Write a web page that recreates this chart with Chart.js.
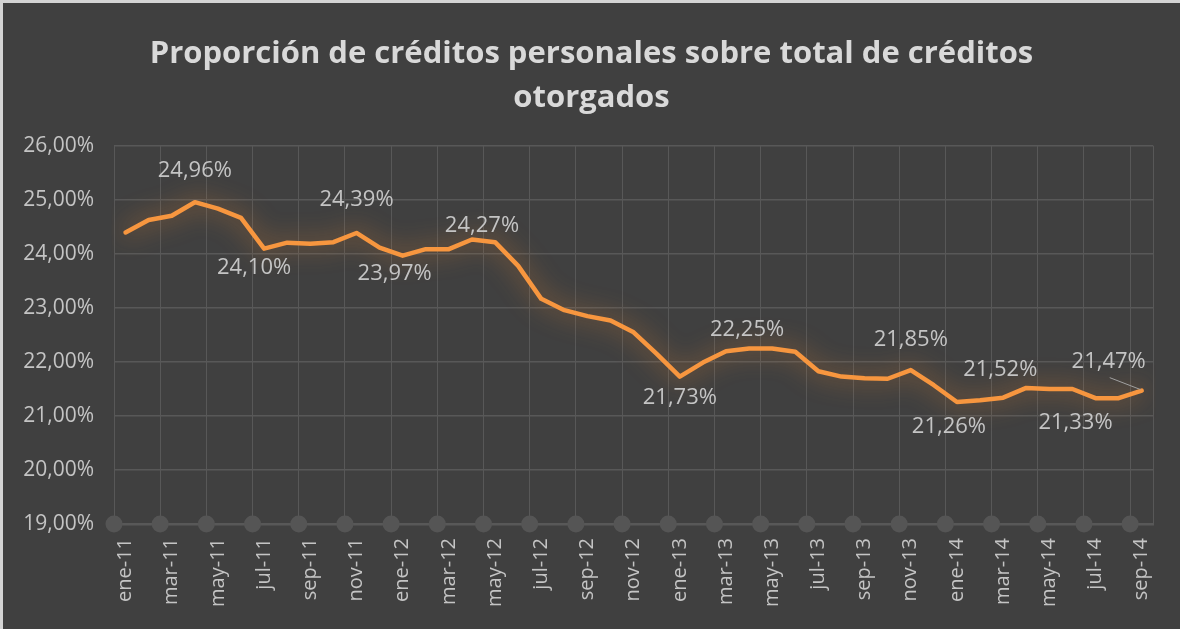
<!DOCTYPE html>
<html>
<head>
<meta charset="utf-8">
<script src="https://cdn.jsdelivr.net/npm/chart.js@4"></script>
<style>
  html, body { margin: 0; padding: 0; background: #d4d4d4; }
  #wrap { position: absolute; left: 3px; top: 3px; width: 1177px; height: 626px; background: #404040; }
</style>
</head>
<body>
<div id="wrap"><canvas id="chart" width="1177" height="626"></canvas></div>
<script>
(function () {
  "use strict";

  // meses ene-11 .. sep-14
  const categories = [
    "ene-11", "feb-11", "mar-11", "abr-11", "may-11", "jun-11", "jul-11", "ago-11", "sep-11", "oct-11", "nov-11", "dic-11",
    "ene-12", "feb-12", "mar-12", "abr-12", "may-12", "jun-12", "jul-12", "ago-12", "sep-12", "oct-12", "nov-12", "dic-12",
    "ene-13", "feb-13", "mar-13", "abr-13", "may-13", "jun-13", "jul-13", "ago-13", "sep-13", "oct-13", "nov-13", "dic-13",
    "ene-14", "feb-14", "mar-14", "abr-14", "may-14", "jun-14", "jul-14", "ago-14", "sep-14",
  ];
  const proporcion = [
    24.40, 24.63, 24.71, 24.96, 24.84, 24.67, 24.10, 24.21, 24.19, 24.22, 24.39, 24.12,
    23.97, 24.09, 24.09, 24.27, 24.22, 23.78, 23.17, 22.96, 22.85, 22.77, 22.55, 22.15,
    21.73, 21.99, 22.20, 22.25, 22.25, 22.19, 21.83, 21.73, 21.70, 21.69, 21.85, 21.57,
    21.26, 21.29, 21.34, 21.52, 21.50, 21.50, 21.33, 21.33, 21.47,
  ];
  // puntos con etiqueta
  const labelIdx = [3, 6, 10, 12, 15, 24, 27, 34, 36, 39, 42, 44];
  const yTicks = [19, 20, 21, 22, 23, 24, 25, 26];

  const GRID = "#585858";
  const TXT = "#c4c4c4";
  const ORANGE = "#f7963f";

  const fmt = (v) => v.toFixed(2).replace(".", ",") + "%";

  // glow del trazo
  const glow = {
    id: "glow",
    beforeDatasetDraw(chart) {
      const ctx = chart.ctx;
      ctx.save();
      ctx.shadowColor = "rgba(240,140,50,0.75)";
      ctx.shadowBlur = 24;
    },
    afterDatasetDraw(chart) {
      chart.ctx.restore();
    },
  };

  // circulos grises sobre el eje
  const axisDots = {
    id: "axisDots",
    beforeDatasetsDraw(chart) {
      const x = chart.scales.x;
      const y = chart.scales.y;
      const half = (x.getPixelForValue(1) - x.getPixelForValue(0)) / 2;
      const ctx = chart.ctx;
      ctx.save();
      ctx.fillStyle = "#555555";
      for (let i = 0; i < categories.length; i += 2) {
        ctx.beginPath();
        ctx.arc(x.getPixelForValue(i) - half, y.getPixelForValue(yTicks[0]), 8.5, 0, Math.PI * 2);
        ctx.fill();
      }
      ctx.restore();
    },
  };

  // etiquetas de datos
  const dataLabels = {
    id: "dataLabels",
    afterDatasetsDraw(chart, args, opts) {
      const ctx = chart.ctx;
      const pts = chart.getDatasetMeta(0).data;
      ctx.save();
      ctx.font = "22px 'Open Sans'";
      ctx.fillStyle = TXT;
      ctx.textAlign = "center";
      ctx.textBaseline = "middle";
      labelIdx.forEach((idx, k) => {
        const p = pts[idx];
        const o = opts.offsets[k];
        const tx = p.x + o[0];
        const ty = p.y + o[1];
        if (o[2]) {
          ctx.strokeStyle = "#a0a0a0";
          ctx.lineWidth = 1;
          ctx.beginPath();
          ctx.moveTo(tx + 1, ty + 16);
          ctx.lineTo(p.x - 1, p.y - 1);
          ctx.stroke();
        }
        ctx.fillText(fmt(proporcion[idx]), tx, ty);
      });
      ctx.restore();
    },
  };

  new Chart(document.getElementById("chart"), {
    type: "line",
    data: {
      labels: categories,
      datasets: [
        {
          data: proporcion,
          borderColor: ORANGE,
          borderWidth: 4.5,
          borderJoinStyle: "round",
          borderCapStyle: "round",
          tension: 0,
          pointRadius: 0,
          fill: false,
        },
      ],
    },
    options: {
      responsive: false,
      animation: false,
      layout: { padding: 0 },
      plugins: {
        legend: { display: false },
        tooltip: { enabled: false },
        title: {
          display: true,
          text: ["Proporción de créditos personales sobre total de créditos", "otorgados"],
          color: "#d9d9d9",
          font: { family: "'Open Sans'", size: 31, weight: "bold", lineHeight: 1.42 },
          padding: { top: 29, bottom: 26 },
        },
        dataLabels: {
          offsets: [
            [0, -31], [-10, 19], [0, -33], [-8, 18], [10, -14], [0, 21],
            [-2, -19], [0, -30], [-8, 25], [-26, -18], [-20, 25], [-33, -29, true],
          ],
        },
      },
      scales: {
        x: {
          offset: true,
          grid: {
            offset: true,
            drawTicks: false,
            lineWidth: 1,
            color: (c) => (c.index === undefined || c.index % 2 === 0 ? GRID : "rgba(0,0,0,0)"),
          },
          border: { color: GRID, width: 2.5 },
          ticks: {
            autoSkip: false,
            maxRotation: 90,
            minRotation: 90,
            padding: 14,
            color: TXT,
            font: { family: "'Open Sans'", size: 20 },
            callback: (v, i) => (i % 2 === 0 ? categories[i] : ""),
          },
          afterFit(scale) {
            scale.height = 105;
          },
        },
        y: {
          min: yTicks[0],
          max: yTicks[yTicks.length - 1],
          afterBuildTicks(scale) {
            scale.ticks = yTicks.map((v) => ({ value: v }));
          },
          grid: { color: GRID, lineWidth: 1.5, drawTicks: false },
          border: { display: false },
          ticks: {
            padding: 20,
            color: TXT,
            font: { family: "'Open Sans'", size: 21 },
            callback: (v) => fmt(v),
          },
          afterFit(scale) {
            scale.width = 111;
          },
        },
        // margen derecho vacio
        yRight: {
          position: "right",
          grid: { display: false, drawTicks: false },
          border: { display: false },
          ticks: { display: false },
          afterFit(scale) {
            scale.width = 26;
          },
        },
      },
    },
    plugins: [glow, axisDots, dataLabels],
  });
})();
</script>
</body>
</html>
